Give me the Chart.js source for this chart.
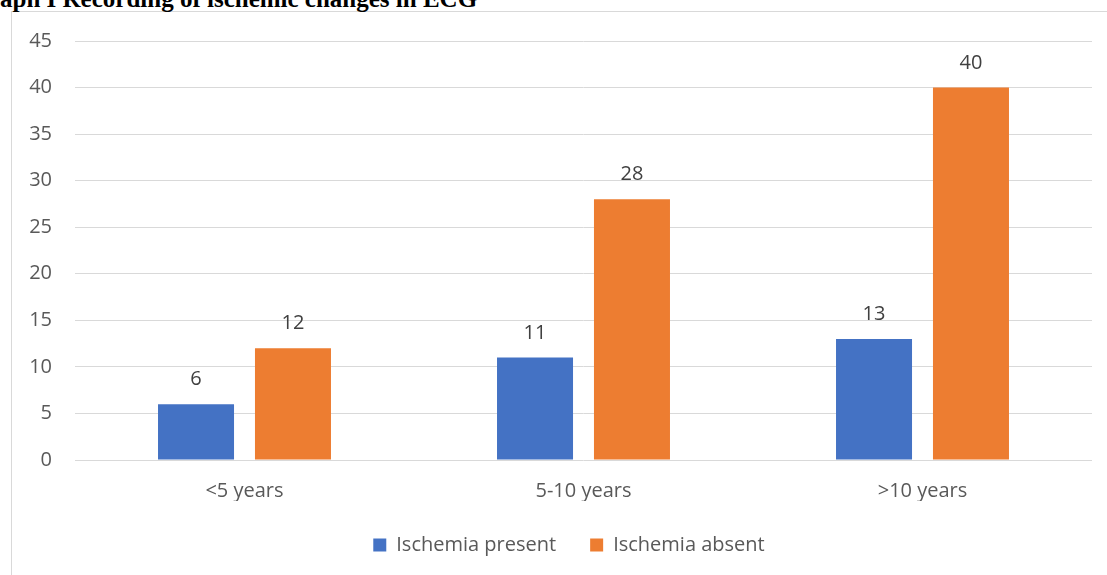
<!DOCTYPE html>
<html>
<head>
<meta charset="utf-8">
<script src="https://cdn.jsdelivr.net/npm/chart.js@4"></script>
<style>
  html, body { margin: 0; padding: 0; background: #fff; overflow: hidden; }
  #wrap { position: absolute; left: 0; top: 0; width: 1107px; height: 575px; }
  #frame { position: absolute; left: 11px; top: 11px; width: 1100px; height: 570px;
           border-left: 1px solid #d9d9d9; border-top: 1px solid #d9d9d9; box-sizing: border-box; }
  #title { position: absolute; left: 0; top: -13px; font-family: "Liberation Serif", serif;
           font-weight: bold; font-size: 25px; color: #000; white-space: nowrap; line-height: 24px; }
  canvas { position: absolute; left: 0; top: 0; }
</style>
</head>
<body>
<div id="wrap">
  <div id="frame"></div>
  <div id="title">aph I Recording of ischemic changes in ECG</div>
  <canvas id="c" width="1107" height="575"></canvas>
</div>
<script>
const categories = ["<5 years", "5-10 years", ">10 years"];
const seriesNames = ["Ischemia present", "Ischemia absent"];
const ischemiaPresent = [6, 11, 13];
const ischemiaAbsent = [12, 28, 40];
const yTicks = [0, 5, 10, 15, 20, 25, 30, 35, 40, 45];

const FONT = '"Open Sans", sans-serif';
const GREY = '#595959';

const valueLabels = {
  id: 'valueLabels',
  afterDatasetsDraw(chart) {
    const ctx = chart.ctx;
    ctx.save();
    ctx.font = '20px ' + FONT;
    ctx.fillStyle = '#404040';
    ctx.textAlign = 'center';
    ctx.textBaseline = 'middle';
    chart.data.datasets.forEach((ds, i) => {
      chart.getDatasetMeta(i).data.forEach((bar, j) => {
        ctx.fillText(String(ds.data[j]), bar.x, bar.y - 24.5);
      });
    });
    ctx.restore();
  }
};

const legendShift = {
  id: 'legendShift',
  afterLayout(chart) {
    const lg = chart.legend;
    if (lg) { lg.left += 23; lg.right += 23; }
  }
};

new Chart(document.getElementById('c'), {
  type: 'bar',
  data: {
    labels: categories,
    datasets: [
      { label: seriesNames[0], data: ischemiaPresent, backgroundColor: '#4472C4' },
      { label: seriesNames[1], data: ischemiaAbsent, backgroundColor: '#ED7D31' }
    ]
  },
  options: {
    responsive: false,
    animation: false,
    devicePixelRatio: 1,
    layout: { padding: { top: 41, left: 0, right: 15, bottom: 10 } },
    datasets: { bar: { categoryPercentage: 0.572, barPercentage: 0.784 } },
    scales: {
      x: {
        grid: { display: false, drawTicks: false },
        border: { display: false },
        ticks: { color: GREY, font: { family: FONT, size: 20 }, padding: 19 },
        afterFit(s) { s.height = 41; }
      },
      y: {
        min: 0, max: 45,
        afterBuildTicks(s) { s.ticks = yTicks.map(v => ({ value: v })); },
        grid: { color: '#d9d9d9', lineWidth: 1, drawTicks: false },
        border: { display: false },
        ticks: { color: GREY, font: { family: FONT, size: 20 }, padding: 23 },
        afterFit(s) { s.width = 75; }
      }
    },
    plugins: {
      legend: {
        position: 'bottom',
        labels: {
          color: GREY,
          font: { family: FONT, size: 20 },
          boxWidth: 13, boxHeight: 13,
          padding: 34
        }
      },
      tooltip: { enabled: false },
      title: { display: false }
    }
  },
  plugins: [valueLabels, legendShift]
});
</script>
</body>
</html>
